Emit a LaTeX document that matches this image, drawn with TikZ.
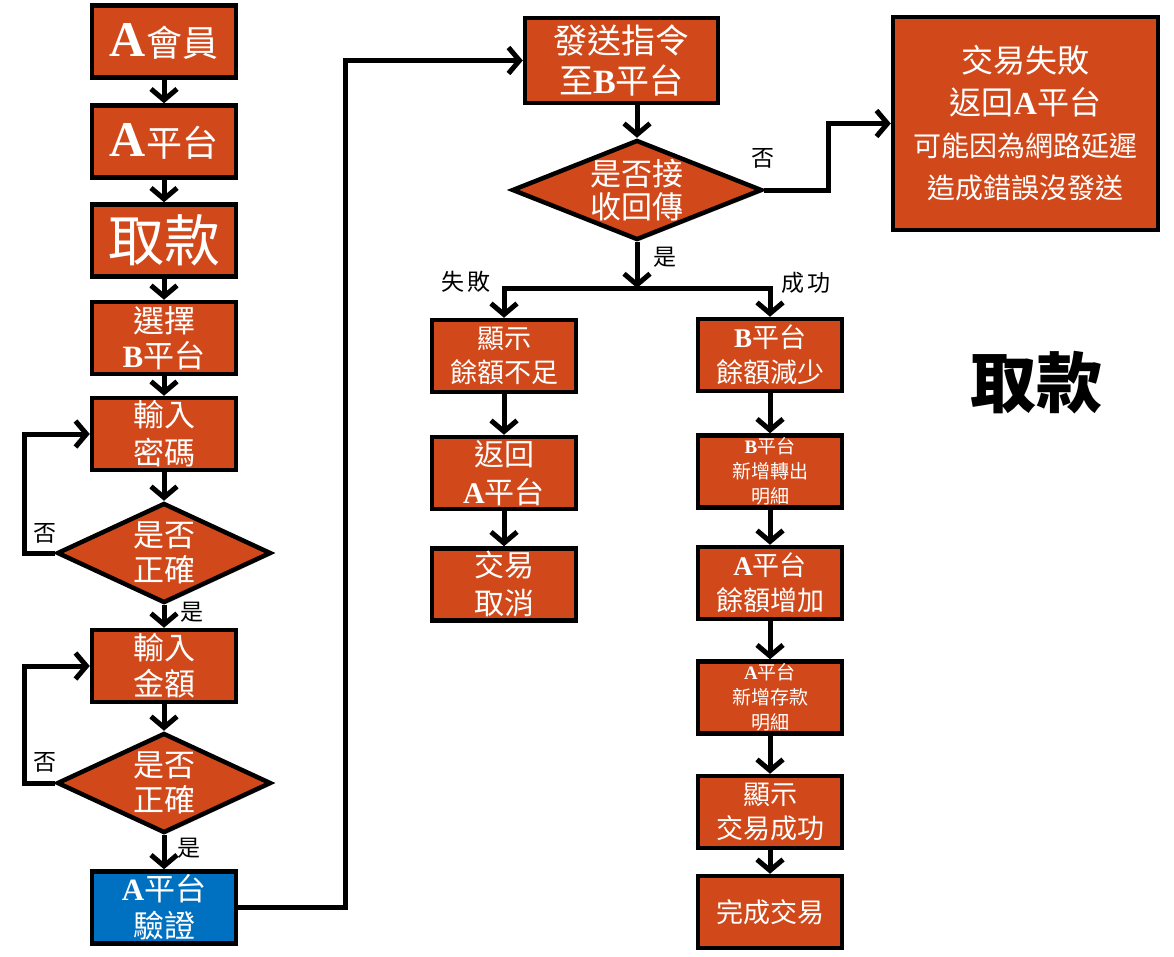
\documentclass[tikz,border=0pt]{standalone}
\usepackage{fontspec}
\usetikzlibrary{arrows.meta,shapes.geometric,shadows}
\newfontfamily\cjk{Noto Sans CJK TC}
\newfontfamily\latf{Liberation Serif}
\definecolor{boxorange}{RGB}{209,73,27}
\definecolor{boxblue}{RGB}{0,112,192}
\newcommand\Lt[1]{{\latf\bfseries #1}}
\newcommand\fs[2]{\fontsize{#1}{#2}\selectfont}
\begin{document}
\begin{tikzpicture}[x=1pt,y=-1pt,
  box/.style={draw=black, line width=4.5pt, fill=boxorange, text=white,
    inner sep=0pt, minimum width=144pt, minimum height=72pt, align=center,
    drop shadow={shadow xshift=2pt,shadow yshift=-2pt,opacity=.35}},
  dec/.style={diamond, draw=black, line width=4.5pt, fill=boxorange, text=white,
    inner sep=0pt, minimum width=214pt, minimum height=100pt, aspect=2.14,
    align=center, drop shadow={shadow xshift=2pt,shadow yshift=-2pt,opacity=.35}},
  arr/.style={line width=5pt, -{Straight Barb[length=11pt,width=26pt]}},
  conn/.style={line width=5pt},
  lbl/.style={font={\cjk\fs{23}{25}}, text=black, inner sep=0pt}]
\useasboundingbox (0,0) rectangle (1174,956);

% left column: login and amount entry
\node[box, font={\cjk\fs{36}{40}}] (a1) at (164,41.5) {\Lt{\fs{50}{50}A}會員};
\node[box, font={\cjk\fs{36}{40}}] (a2) at (164,141.5) {\Lt{\fs{50}{50}A}平台};
\node[box, font={\cjk\fs{56}{60}}] (a3) at (164,240.5) {取款};
\node[box, font={\cjk\fs{31}{35}}] (a4) at (164,338) {選擇\\\Lt{B}平台};
\node[box, font={\cjk\fs{31}{38}}] (a5) at (164,434) {輸入\\密碼};
\node[dec, font={\cjk\fs{31}{35}}] (d1) at (164,553) {是否\\正確};
\node[box, font={\cjk\fs{31}{36}}] (a6) at (164,666) {輸入\\金額};
\node[dec, font={\cjk\fs{31}{35}}] (d2) at (164,783) {是否\\正確};
\node[box, fill=boxblue, font={\cjk\fs{31}{37}}] (ver) at (164,907.5) {\Lt{A}平台\\驗證};

% middle: command sent to platform B
\node[box, minimum width=193pt, minimum height=85pt, font={\cjk\fs{34}{40}}] (send) at (621.5,60.5) {發送指令\\至\Lt{B}平台};
\node[dec, minimum width=250pt, minimum height=100pt, aspect=2.5, font={\cjk\fs{31}{33}}] (dq) at (637,190) {是否接\\收回傳};

% failure on the network
\node[box, minimum width=265pt, minimum height=213pt, font={\cjk\fs{32}{42}}] (fb) at (1025.5,123.5)
  {交易失敗\\返回\Lt{A}平台\\{\fs{28}{36}可能因為網路延遲}\\{\fs{28}{36}造成錯誤沒發送}};

% failure branch
\node[box, font={\cjk\fs{27}{34}}] (f1) at (504,356) {顯示\\餘額不足};
\node[box, font={\cjk\fs{30}{38}}] (f2) at (504,473) {返回\\\Lt{A}平台};
\node[box, font={\cjk\fs{30}{38}}] (f3) at (504,584.5) {交易\\取消};

% success branch
\node[box, font={\cjk\fs{27}{35}}] (s1) at (770,355) {\Lt{B}平台\\餘額減少};
\node[box, font={\cjk\fs{19}{25}}] (s2) at (770,471.5) {\Lt{B}平台\\新增轉出\\明細};
\node[box, font={\cjk\fs{27}{35}}] (s3) at (770,583) {\Lt{A}平台\\餘額增加};
\node[box, font={\cjk\fs{19}{25}}] (s4) at (770,697.5) {\Lt{A}平台\\新增存款\\明細};
\node[box, font={\cjk\fs{27}{34}}] (s5) at (770,812) {顯示\\交易成功};
\node[box, font={\cjk\fs{27}{34}}] (s6) at (770,912) {完成交易};

% title
\node[font={\cjk\bfseries\fs{66}{70}}, text=black] (title) at (1036,383) {取款};

% branch points
\coordinate (split) at (637,288);
\coordinate (jl) at (504,288);
\coordinate (jr) at (770,288);

% connectors, left column
\draw[arr] (a1) -- (a2);
\draw[arr] (a2) -- (a3);
\draw[arr] (a3) -- (a4);
\draw[arr] (a4) -- (a5);
\draw[arr] (a5.south) -- (d1.north);
\draw[arr] (d1.south) -- (a6.north);
\draw[arr] (d1.west) -- ++(-30,0) |- (a5.west);
\draw[arr] (a6.south) -- (d2.north);
\draw[arr] (d2.south) -- (ver.north);
\draw[arr] (d2.west) -- ++(-30,0) |- (a6.west);
\draw[arr] (ver.east) -- (345,907.5) |- (send.west);

% connectors, middle and right
\draw[arr] (dq.north |- send.south) -- (dq.north);
\draw[arr] (dq.east) -- (828,190) |- (fb.west);
\draw[arr] (dq.south) -- (split);
\draw[conn, line cap=rect] (jl) -- (jr);
\draw[arr] (jl) -- (f1.north);
\draw[arr] (jr) -- (s1.north);
\draw[arr] (f1) -- (f2);
\draw[arr] (f2) -- (f3);
\draw[arr] (s1) -- (s2);
\draw[arr] (s2) -- (s3);
\draw[arr] (s3) -- (s4);
\draw[arr] (s4) -- (s5);
\draw[arr] (s5) -- (s6);

% branch labels
\node[lbl] (n1) at (45,533) {否};
\node[lbl] (y1) at (192,612) {是};
\node[lbl] (n2) at (45,762) {否};
\node[lbl] (y2) at (189,848) {是};
\node[lbl] (n3) at (763,158) {否};
\node[lbl] (y3) at (665,257) {是};
\node[lbl] (lf) at (466,282) {失\,敗};
\node[lbl] (ls) at (806,283) {成\,功};
\end{tikzpicture}
\end{document}
